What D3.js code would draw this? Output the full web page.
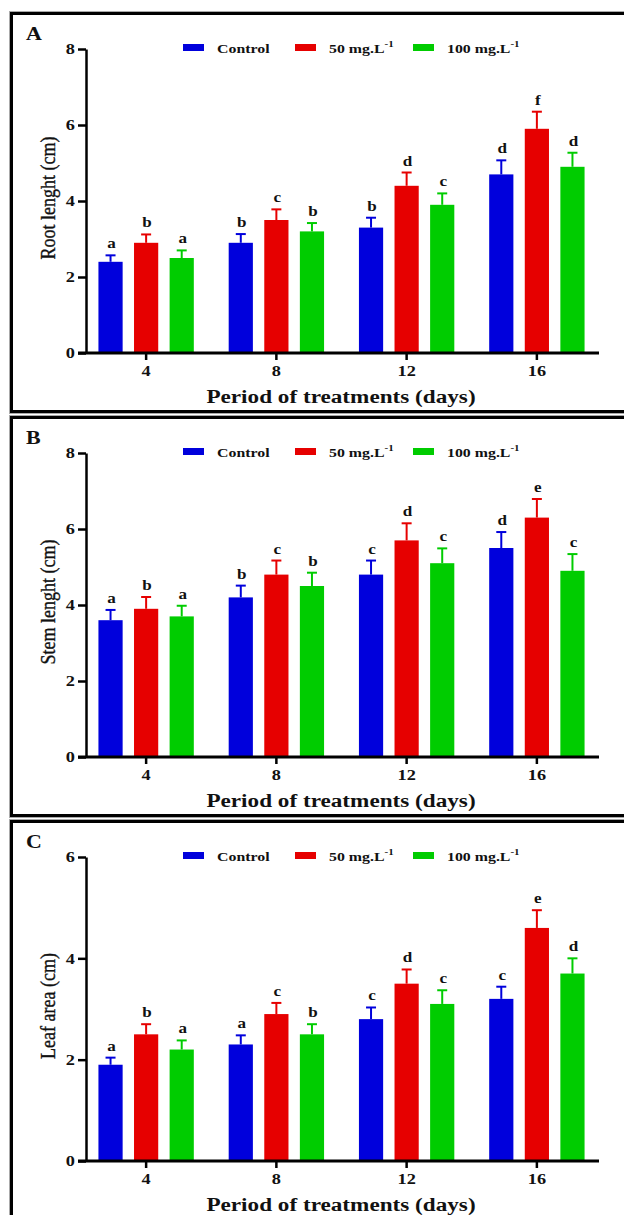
<!DOCTYPE html>
<html>
<head>
<meta charset="utf-8">
<script src="https://cdn.jsdelivr.net/npm/d3@7/dist/d3.min.js"></script>
<style>
  html, body { margin: 0; padding: 0; background: #fff; }
  svg { display: block; }
  text { font-family: "Liberation Serif", "Times New Roman", serif; fill: #111; }
</style>
</head>
<body>
<div id="chart"></div>
<script>
// ---- data ----
const days = ["4", "8", "12", "16"];
const seriesNames = ["Control", "50 mg.L", "100 mg.L"];
const seriesSup = ["", "-1", "-1"];
const colors = ["#0000dc", "#e60000", "#00cc00"];

// rows: Control, 50 mg/L, 100 mg/L ; columns: days
const rootMeans = [[2.4, 2.9, 3.3, 4.7], [2.9, 3.5, 4.4, 5.9], [2.5, 3.2, 3.9, 4.9]];
const rootErrs = [[0.17, 0.23, 0.26, 0.37], [0.22, 0.28, 0.35, 0.45], [0.2, 0.22, 0.3, 0.37]];
const rootLetters = [["a", "b", "b", "d"], ["b", "c", "d", "f"], ["a", "b", "c", "d"]];

const stemMeans = [[3.6, 4.2, 4.8, 5.5], [3.9, 4.8, 5.7, 6.3], [3.7, 4.5, 5.1, 4.9]];
const stemErrs = [[0.27, 0.31, 0.37, 0.42], [0.31, 0.37, 0.45, 0.49], [0.28, 0.35, 0.39, 0.44]];
const stemLetters = [["a", "b", "c", "d"], ["b", "c", "d", "e"], ["a", "b", "c", "c"]];

const leafMeans = [[1.9, 2.3, 2.8, 3.2], [2.5, 2.9, 3.5, 4.6], [2.2, 2.5, 3.1, 3.7]];
const leafErrs = [[0.14, 0.18, 0.23, 0.24], [0.2, 0.22, 0.28, 0.35], [0.18, 0.2, 0.27, 0.3]];
const leafLetters = [["a", "a", "c", "c"], ["b", "c", "d", "e"], ["a", "b", "c", "d"]];

const rootTicks = [0, 2, 4, 6, 8];
const stemTicks = [0, 2, 4, 6, 8];
const leafTicks = [0, 2, 4, 6];

const panels = [
  { tag: "A", ylabel: "Root lenght (cm)", means: rootMeans, errs: rootErrs, letters: rootLetters, ticks: rootTicks },
  { tag: "B", ylabel: "Stem lenght (cm)", means: stemMeans, errs: stemErrs, letters: stemLetters, ticks: stemTicks },
  { tag: "C", ylabel: "Leaf area (cm)", means: leafMeans, errs: leafErrs, letters: leafLetters, ticks: leafTicks }
];

// ---- layout ----
const W = 624, H = 1215;
const SX = 1.22;          // the figure is stretched horizontally
const panelH = 404;
const axisX = 86;

const svg = d3.select("#chart").append("svg")
  .attr("width", W).attr("height", H)
  .attr("viewBox", `0 0 ${W} ${H}`);

function txt(g, x, y, s, size, weight, anchor) {
  return g.append("text")
    .attr("transform", `translate(${x},${y}) scale(${SX},1)`)
    .attr("text-anchor", anchor || "start")
    .style("font-size", size + "px")
    .style("font-weight", weight || "bold")
    .text(s);
}

const x = d3.scaleBand().domain(days).range([81, 602]).paddingInner(0).paddingOuter(0);
const xSub = d3.scaleBand().domain(d3.range(seriesNames.length))
  .range([0, x.bandwidth()]).paddingInner(0.32).paddingOuter(0.49);

panels.forEach((p, i) => {
  const top = 13 + i * panelH;
  const g = svg.append("g");

  // frame
  g.append("rect").attr("x", 9.5).attr("y", top - 1.5).attr("width", 640).attr("height", 402)
    .attr("fill", "none").attr("stroke", "#aaa").attr("stroke-width", 1);
  g.append("rect").attr("x", 11.5).attr("y", top + 0.5).attr("width", 640).attr("height", 398)
    .attr("fill", "none").attr("stroke", "#000").attr("stroke-width", 3);

  txt(g, 26, top + 27, p.tag, 18, "bold");

  const yMax = p.ticks[p.ticks.length - 1];
  const y = d3.scaleLinear().domain([0, yMax]).range([top + 340, top + 36]);

  // bars
  p.means.forEach((row, s) => {
    const bars = g.append("g");
    bars.selectAll("rect").data(row).join("rect")
      .attr("x", (d, j) => x(days[j]) + xSub(s))
      .attr("y", d => y(d))
      .attr("width", xSub.bandwidth())
      .attr("height", d => y(0) - y(d))
      .attr("fill", colors[s]);

    const cx = j => x(days[j]) + xSub(s) + xSub.bandwidth() / 2;
    bars.selectAll("line.err").data(row).join("line").attr("class", "err")
      .attr("x1", (d, j) => cx(j)).attr("x2", (d, j) => cx(j))
      .attr("y1", d => y(d)).attr("y2", (d, j) => y(d + p.errs[s][j]))
      .attr("stroke", colors[s]).attr("stroke-width", 2);
    bars.selectAll("line.cap").data(row).join("line").attr("class", "cap")
      .attr("x1", (d, j) => cx(j) - 5).attr("x2", (d, j) => cx(j) + 5)
      .attr("y1", (d, j) => y(d + p.errs[s][j])).attr("y2", (d, j) => y(d + p.errs[s][j]))
      .attr("stroke", colors[s]).attr("stroke-width", 2);

    row.forEach((d, j) => {
      txt(bars, cx(j) + 1, y(d + p.errs[s][j]) - 7, p.letters[s][j], 14, "bold", "middle");
    });
  });

  // y axis
  const ya = g.append("g").attr("transform", `translate(${axisX},0)`)
    .call(d3.axisLeft(y).tickValues(p.ticks).tickFormat(d3.format("d")).tickSize(8).tickSizeOuter(0).tickPadding(3));
  ya.select(".domain").attr("stroke", "#000").attr("stroke-width", 2.5);
  ya.selectAll(".tick line").attr("stroke", "#000").attr("stroke-width", 2.5);
  ya.selectAll(".tick text")
    .attr("transform", `scale(${SX},1)`)
    .attr("x", -11 / SX)
    .style("font-size", "15px").style("font-weight", "bold").style("font-family", null);

  // x axis
  const xa = g.append("g").attr("transform", `translate(0,${y(0)})`)
    .call(d3.axisBottom(x).tickSize(7).tickSizeOuter(0).tickPadding(5));
  xa.select(".domain").remove();
  xa.selectAll(".tick line").attr("stroke", "#000").attr("stroke-width", 2.5);
  xa.selectAll(".tick text")
    .attr("transform", `scale(${SX},1)`)
    .style("font-size", "15px").style("font-weight", "bold").style("font-family", null);
  g.append("line").attr("x1", 78).attr("x2", 599).attr("y1", y(0)).attr("y2", y(0))
    .attr("stroke", "#000").attr("stroke-width", 3);

  txt(g, 341, top + 390, "Period of treatments (days)", 19, "bold", "middle");

  // y label
  g.append("text")
    .attr("transform", `translate(55,${top + 185}) scale(${SX},1) rotate(-90)`)
    .attr("text-anchor", "middle")
    .style("font-size", "18px")
    .style("stroke", "#111").style("stroke-width", 0.3)
    .text(p.ylabel);

  // legend
  const legX = [183, 295, 413];
  seriesNames.forEach((name, s) => {
    g.append("rect").attr("x", legX[s]).attr("y", top + 31).attr("width", 21).attr("height", 7)
      .attr("fill", colors[s]);
    const t = txt(g, legX[s] + 34, top + 40, name, 13, "bold");
    if (seriesSup[s]) {
      t.append("tspan").attr("dy", -6).style("font-size", "9px").text(seriesSup[s]);
    }
  });
});
</script>
</body>
</html>
